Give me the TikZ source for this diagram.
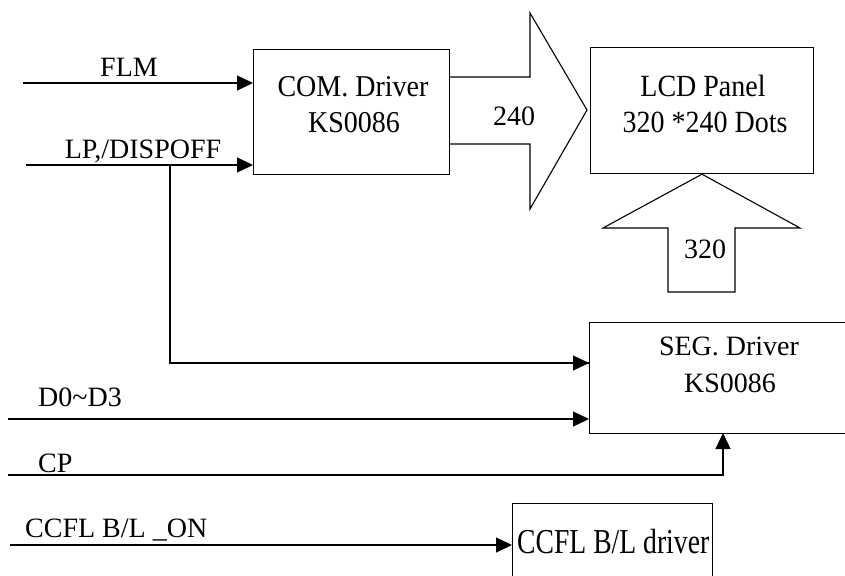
\documentclass[tikz,border=0pt]{standalone}
\usepackage{graphicx}
\usepackage{fontspec}
\setmainfont{Liberation Serif}
\usetikzlibrary{arrows.meta}
\begin{document}
\begin{tikzpicture}[x=1pt,y=-1pt,
  box/.style={draw,line width=1.2pt,inner sep=0pt,anchor=north west},
  sig/.style={line width=1.2pt,-{Triangle[length=16pt,width=15pt]}},
  wire/.style={line width=1.2pt},
  blk/.style={line width=1.1pt,line join=miter},
  lbl/.style={inner sep=0pt,font=\fontsize{28}{30}\selectfont},
  txt/.style={inner sep=0pt,anchor=base,font=\fontsize{28}{30}\selectfont}]
\useasboundingbox (0,0) rectangle (845,575);
% boxes
\node[box,minimum width=196pt,minimum height=125pt] (com) at (253,49) {};
\node[box,minimum width=223pt,minimum height=126pt] (lcd) at (590,47) {};
\node[box,minimum width=270pt,minimum height=111pt] (seg) at (589,322) {};
\node[box,minimum width=200pt,minimum height=100pt] (ccfl) at (512,503) {};
% box texts
\node[txt] (comt1) at (353,97) {\scalebox{1}[1.08]{COM. Driver}};
\node[txt] (comt2) at (354,132) {\scalebox{1}[1.08]{KS0086}};
\node[txt] (lcdt1) at (703,97) {\scalebox{1}[1.1]{LCD Panel}};
\node[txt] (lcdt2) at (705,132) {\scalebox{1}[1.1]{320 *240 Dots}};
\node[txt] (segt1) at (729,355) {SEG. Driver};
\node[txt] (segt2) at (730,392) {KS0086};
\node[txt,anchor=base west] (ccflt) at (517,553) {\fontsize{35}{38}\selectfont\scalebox{0.79}[1]{CCFL B/L driver}};
% block arrows
\draw[blk] (com.east |- 0,77) coordinate (a240s) -- (530,77) -- (530,13) -- (587,110) -- (530,209) -- (530,144) -- (com.east |- 0,144);
\node[txt] (n240) at (514,125) {240};
\draw[blk] (668,292) -- (668,228) -- (603,228) -- (lcd.south -| 702,0) -- (800,228) -- (735,228) -- (735,292) -- cycle;
\node[txt] (n320) at (705,258) {320};
% signals
\coordinate (flmS) at (23,83);
\draw[sig] (flmS) -- (com.west |- flmS);
\node[lbl,anchor=base] (flml) at (129,77) {FLM};
\coordinate (lpS) at (26,165);
\draw[sig] (lpS) -- (com.west |- lpS);
\node[lbl,anchor=base] (lpl) at (143,158) {LP,/DISPOFF};
\coordinate (br) at (170,165);
\coordinate (segin1) at (589,363);
\draw[wire] (br) |- (segin1);
\draw[sig] ([xshift=-20pt]segin1) -- (seg.west |- segin1);
\coordinate (d0S) at (8,419);
\draw[sig] (d0S) -- (seg.west |- d0S);
\node[lbl,anchor=base west] (d0l) at (38,406) {D0\char"007E D3};
\coordinate (cpS) at (8,475);
\coordinate (cpT) at (723,433);
\draw[sig] (cpS) -| (cpT);
\node[lbl,anchor=base west] (cpl) at (38,472) {CP};
\coordinate (ccS) at (10,545);
\draw[sig] (ccS) -- (ccfl.west |- ccS);
\node[lbl,anchor=base west] (ccl) at (25,537) {CCFL B/L \_ON};
\end{tikzpicture}
\end{document}
